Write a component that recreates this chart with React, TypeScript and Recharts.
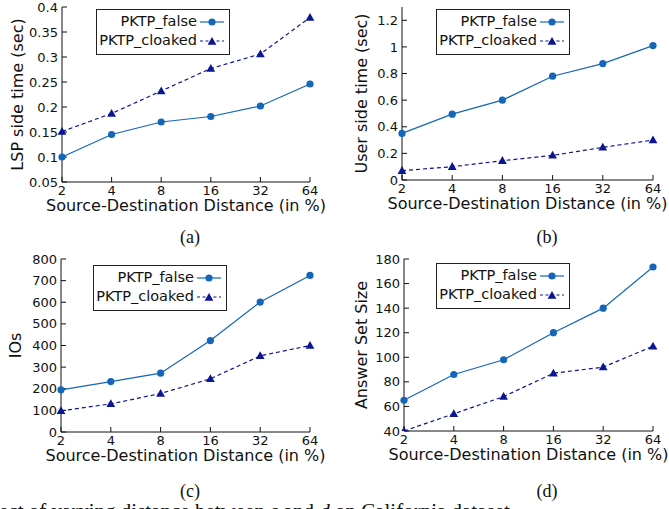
import React from 'react';
import { LineChart, Line, XAxis, YAxis, Legend, Label } from 'recharts';

const FONT = 'DejaVu Sans';
const SERIF = 'Liberation Serif';
const BLUE = '#1466b8';
const NAVY = '#0c1690';

// x categories (Source-Destination Distance, %)
const distances = ['2', '4', '8', '16', '32', '64'];

// (a) LSP side time (sec)
const lspFalse = [0.1, 0.145, 0.17, 0.181, 0.202, 0.246];
const lspCloaked = [0.151, 0.187, 0.232, 0.277, 0.306, 0.379];
const lspTicks = [0.05, 0.1, 0.15, 0.2, 0.25, 0.3, 0.35, 0.4];

// (b) User side time (sec)
const userFalse = [0.35, 0.495, 0.6, 0.78, 0.875, 1.01];
const userCloaked = [0.07, 0.1, 0.145, 0.185, 0.245, 0.3];
const userTicks = [0, 0.2, 0.4, 0.6, 0.8, 1, 1.2];

// (c) IOs
const ioFalse = [195, 233, 272, 423, 601, 724];
const ioCloaked = [98, 130, 178, 246, 352, 400];
const ioTicks = [0, 100, 200, 300, 400, 500, 600, 700, 800];

// (d) Answer set size
const answerFalse = [65, 86, 98, 120, 140, 173.5];
const answerCloaked = [40, 54, 68, 87, 92, 109];
const answerTicks = [40, 60, 80, 100, 120, 140, 160, 180];

const seriesOrder = ['pf', 'pc'];
const seriesNames = { pf: 'PKTP_false', pc: 'PKTP_cloaked' };

function Circle(props: any) {
  const { cx, cy } = props;
  if (cx == null || cy == null) return null;
  return <circle cx={cx} cy={cy} r={3.6} fill={BLUE} />;
}

function Triangle(props: any) {
  const { cx, cy } = props;
  if (cx == null || cy == null) return null;
  return <path d={`M${cx},${cy - 4.6}L${cx + 4.4},${cy + 3.2}L${cx - 4.4},${cy + 3.2}Z`} fill={NAVY} />;
}

function BoxLegend(props: any) {
  const items = [...(props.payload || [])].sort(
    (a: any, b: any) => seriesOrder.indexOf(a.dataKey) - seriesOrder.indexOf(b.dataKey),
  );
  return (
    <div
      style={{
        border: '1px solid #222',
        background: '#fff',
        boxSizing: 'border-box',
        width: 134,
        padding: '2px 4px 4px 0',
        fontFamily: FONT,
        fontSize: 14.5,
        lineHeight: '19px',
        color: '#111',
      }}
    >
      {items.map((entry: any) => {
        const dashed = entry.dataKey === 'pc';
        return (
          <div key={entry.value} style={{ display: 'flex', justifyContent: 'flex-end', alignItems: 'center' }}>
            <span>{entry.value}</span>
            <svg width={26} height={12} style={{ marginLeft: 2 }}>
              <line
                x1={1}
                x2={25}
                y1={6}
                y2={6}
                stroke={dashed ? NAVY : BLUE}
                strokeWidth={1.2}
                strokeDasharray={dashed ? '3 2.5' : undefined}
              />
              {dashed ? <Triangle cx={13} cy={6.5} /> : <Circle cx={13} cy={6} />}
            </svg>
          </div>
        );
      })}
    </div>
  );
}

interface PanelProps {
  left: number;
  top: number;
  width: number;
  height: number;
  margin: { top: number; right: number; bottom: number; left: number };
  yWidth: number;
  yDomain: [number, number];
  yTicks: number[];
  yTitle: string;
  yTitleX: number;
  falseVals: number[];
  cloakedVals: number[];
  legendLeft: number;
  legendTop: number;
}

const X_AXIS_H = 30;

function Panel(p: PanelProps) {
  const data = distances.map((d, i) => ({ d, pf: p.falseVals[i], pc: p.cloakedVals[i] }));
  const plotW = p.width - p.margin.left - p.margin.right - p.yWidth;
  const plotH = p.height - p.margin.top - p.margin.bottom - X_AXIS_H;
  const plotX = p.margin.left + p.yWidth;
  const tickStyle = { fontSize: 13, fill: '#111', fontFamily: FONT };

  return (
    <div style={{ position: 'absolute', left: p.left, top: p.top }}>
      <LineChart width={p.width} height={p.height} data={data} margin={p.margin} style={{ fontFamily: FONT }}>
        <XAxis
          dataKey="d"
          type="category"
          stroke="#111"
          tick={tickStyle}
          tickSize={-5}
          tickMargin={9}
          interval={0}
          height={X_AXIS_H}
        >
          <Label
            content={() => (
              <text
                x={plotX + plotW / 2}
                y={p.margin.top + plotH + 23}
                textAnchor="middle"
                dominantBaseline="central"
                fontSize={16}
                fontFamily={FONT}
                fill="#111"
              >
                Source-Destination Distance (in %)
              </text>
            )}
          />
        </XAxis>
        <XAxis xAxisId="top" dataKey="d" type="category" orientation="top" stroke="#111" tick={false} tickSize={-5} height={0} />
        <YAxis
          domain={p.yDomain}
          ticks={p.yTicks}
          type="number"
          allowDataOverflow
          stroke="#111"
          tick={tickStyle}
          tickSize={-5}
          tickMargin={9}
          width={p.yWidth}
          interval={0}
        >
          <Label
            content={() => {
              const cy = p.margin.top + plotH / 2;
              return (
                <text
                  x={p.yTitleX}
                  y={cy}
                  transform={`rotate(-90 ${p.yTitleX} ${cy})`}
                  textAnchor="middle"
                  dominantBaseline="central"
                  fontSize={16}
                  fontFamily={FONT}
                  fill="#111"
                >
                  {p.yTitle}
                </text>
              );
            }}
          />
        </YAxis>
        <YAxis
          yAxisId="right"
          orientation="right"
          domain={p.yDomain}
          ticks={p.yTicks}
          type="number"
          stroke="#111"
          tick={false}
          tickSize={-5}
          width={0}
        />
        <Legend
          layout="horizontal"
          verticalAlign="middle"
          align="center"
          content={BoxLegend}
          wrapperStyle={{ left: p.legendLeft - p.left, top: p.legendTop - p.top, width: 134, height: 'auto' }}
        />
        <Line
          dataKey="pf"
          name={seriesNames.pf}
          stroke={BLUE}
          strokeWidth={1.2}
          dot={<Circle />}
          activeDot={false}
          isAnimationActive={false}
        />
        <Line
          dataKey="pc"
          name={seriesNames.pc}
          stroke={NAVY}
          strokeWidth={1.2}
          strokeDasharray="4 3"
          dot={<Triangle />}
          activeDot={false}
          isAnimationActive={false}
        />
      </LineChart>
    </div>
  );
}

export default function App() {
  return (
    <div style={{ position: 'absolute', left: 0, top: 0, width: 669, height: 509, overflow: 'hidden', background: '#fff' }}>
      <Panel
        left={0}
        top={0}
        width={334}
        height={240}
        margin={{ top: 7, right: 24, bottom: 28, left: 12 }}
        yWidth={50}
        yDomain={[0.05, 0.4]}
        yTicks={lspTicks}
        yTitle="LSP side time (sec)"
        yTitleX={17}
        falseVals={lspFalse}
        cloakedVals={lspCloaked}
        legendLeft={96}
        legendTop={9}
      />
      <Panel
        left={334}
        top={0}
        width={335}
        height={240}
        margin={{ top: 7, right: 16, bottom: 30, left: 18 }}
        yWidth={50}
        yDomain={[0, 1.3]}
        yTicks={userTicks}
        yTitle="User side time (sec)"
        yTitleX={27}
        falseVals={userFalse}
        cloakedVals={userCloaked}
        legendLeft={436}
        legendTop={9}
      />
      <Panel
        left={0}
        top={240}
        width={334}
        height={269}
        margin={{ top: 19, right: 24, bottom: 47, left: 11 }}
        yWidth={50}
        yDomain={[0, 800]}
        yTicks={ioTicks}
        yTitle="IOs"
        yTitleX={15}
        falseVals={ioFalse}
        cloakedVals={ioCloaked}
        legendLeft={93}
        legendTop={265}
      />
      <Panel
        left={334}
        top={240}
        width={335}
        height={269}
        margin={{ top: 19, right: 16, bottom: 48, left: 20 }}
        yWidth={50}
        yDomain={[40, 180]}
        yTicks={answerTicks}
        yTitle="Answer Set Size"
        yTitleX={27}
        falseVals={answerFalse}
        cloakedVals={answerCloaked}
        legendLeft={436}
        legendTop={263}
      />
      <svg width={669} height={509} style={{ position: 'absolute', left: 0, top: 0, pointerEvents: 'none' }}>
        <g fontFamily={SERIF} fontSize={18} fill="#111" textAnchor="middle">
          <text x={190} y={243}>(a)</text>
          <text x={547} y={243}>(b)</text>
          <text x={190} y={497}>(c)</text>
          <text x={547} y={497}>(d)</text>
        </g>
        <text x={-1} y={518} fontFamily={SERIF} fontSize={21} fill="#111">
          ect of varying distance between <tspan fontStyle="italic">s</tspan> and{' '}
          <tspan fontStyle="italic">d</tspan> on California dataset.
        </text>
      </svg>
    </div>
  );
}
